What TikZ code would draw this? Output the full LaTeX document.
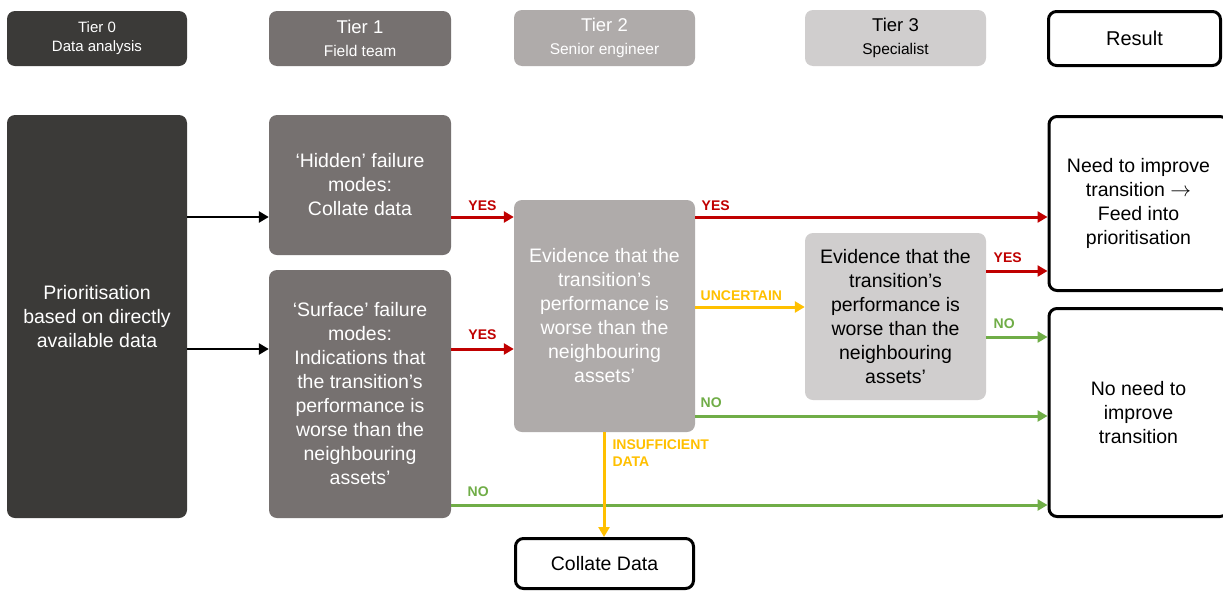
\documentclass[tikz,border=0pt]{standalone}
\usepackage{fontspec}
\setmainfont{Liberation Sans}
\usetikzlibrary{arrows.meta}
\definecolor{tzero}{HTML}{3B3A38}
\definecolor{tone}{HTML}{767170}
\definecolor{ttwo}{HTML}{AFABAA}
\definecolor{tthree}{HTML}{D0CECE}
\definecolor{cred}{HTML}{C00000}
\definecolor{cyel}{HTML}{FFC000}
\definecolor{cgrn}{HTML}{70AD47}
\newcommand\tiername[1]{{\fontsize{18.5}{21}\selectfont #1}}
\newcommand\tierrole[1]{{\fontsize{15.5}{18}\selectfont #1}}
\begin{document}
\begin{tikzpicture}[x=1pt,y=-1pt,
  box/.style={rounded corners=8pt, align=center, inner sep=2pt,
    font=\fontsize{19.5}{24}\selectfont},
  hdr/.style={box, minimum width=180pt, minimum height=55pt},
  res/.style={box, draw=black, line width=3pt, fill=white, text=black},
  arr/.style={line width=3pt, -{Triangle[length=10pt,width=11pt]}},
  lbl/.style={font=\bfseries\fontsize{14}{17}\selectfont, inner sep=0pt}]
\useasboundingbox (0,0) rectangle (1223,592);
\fill[white] (0,0) rectangle (1223,592);

% column headers
\node[hdr, fill=tzero, text=white, font=\fontsize{15}{19}\selectfont, text depth=3pt] (h0) at (97,38.5)
  {Tier 0\\Data analysis};
\node[hdr, fill=tone, text=white, minimum width=182pt] (h1) at (360,38.5)
  {\tiername{Tier 1}\\[-1pt]\tierrole{Field team}};
\node[hdr, fill=ttwo, text=white, minimum width=181pt, minimum height=56pt] (h2) at (604.5,38)
  {\tiername{Tier 2}\\[-1pt]\tierrole{Senior engineer}};
\node[hdr, fill=tthree, text=black, minimum width=181pt, minimum height=56pt] (h3) at (895.5,38)
  {\tiername{Tier 3}\\[-1pt]\tierrole{Specialist}};
\node[res, minimum width=172pt, minimum height=54pt, font=\fontsize{20}{24}\selectfont] (hr) at (1134.5,38.5)
  {Result};

% process boxes
\node[box, fill=tzero, text=white, minimum width=180pt, minimum height=403pt] (prio) at (97,316.5)
  {Prioritisation\\based on directly\\available data};
\node[box, fill=tone, text=white, minimum width=182pt, minimum height=140pt] (hidden) at (360,185)
  {‘Hidden’ failure\\modes:\\Collate data};
\node[box, fill=tone, text=white, minimum width=182pt, minimum height=248pt] (surface) at (360,394)
  {‘Surface’ failure\\modes:\\Indications that\\the transition’s\\performance is\\worse than the\\neighbouring\\assets’};
\node[box, fill=ttwo, text=white, minimum width=181pt, minimum height=232pt] (evtwo) at (604.5,316)
  {Evidence that the\\transition’s\\performance is\\worse than the\\neighbouring\\assets’};
\node[box, fill=tthree, text=black, minimum width=181pt, minimum height=167pt] (evthree) at (895.5,316.5)
  {Evidence that the\\transition’s\\performance is\\worse than the\\neighbouring\\assets’};
\node[res, minimum width=179pt, minimum height=174pt] (need) at (1138.5,203.5)
  {Need to improve\\transition $\rightarrow$\\Feed into\\prioritisation};
\node[res, minimum width=179pt, minimum height=208pt] (noneed) at (1138.5,412.5)
  {No need to\\improve\\transition};
\node[res, minimum width=178pt, minimum height=50pt] (collate) at (604.5,563.5)
  {Collate Data};

% connector levels
\coordinate (la) at (0,217);
\coordinate (lb) at (0,349);
\coordinate (lc) at (0,307);
\coordinate (ld) at (0,271);
\coordinate (le) at (0,337);
\coordinate (lf) at (0,416);
\coordinate (lg) at (0,505);
\coordinate (lv) at (604,0);

% connectors
\draw[arr, black, line width=2.5pt] (prio.east |- la) -- (hidden.west |- la);
\draw[arr, black, line width=2.5pt] (prio.east |- lb) -- (surface.west |- lb);

\draw[arr, cred] (hidden.east |- la) -- (evtwo.west |- la)
  node[lbl, midway, anchor=south, yshift=5pt] {YES};
\draw[arr, cred] (surface.east |- lb) -- (evtwo.west |- lb)
  node[lbl, midway, anchor=south, yshift=8pt] {YES};
\draw[arr, cred] (evtwo.east |- la) -- (need.west |- la)
  node[lbl, pos=0, anchor=south west, xshift=5pt, yshift=5pt] {YES};
\draw[arr, cyel] (evtwo.east |- lc) -- (evthree.west |- lc)
  node[lbl, pos=0, anchor=south west, xshift=4pt, yshift=5pt] {UNCERTAIN};
\draw[arr, cred] (evthree.east |- ld) -- (need.west |- ld)
  node[lbl, pos=0, anchor=south west, xshift=6pt, yshift=7pt] {YES};
\draw[arr, cgrn] (evthree.east |- le) -- (noneed.west |- le)
  node[lbl, pos=0, anchor=south west, xshift=6pt, yshift=7pt] {NO};
\draw[arr, cgrn] (evtwo.east |- lf) -- (noneed.west |- lf)
  node[lbl, pos=0, anchor=south west, xshift=4pt, yshift=7pt] {NO};
\draw[arr, cgrn] (surface.east |- lg) -- (noneed.west |- lg)
  node[lbl, pos=0, anchor=south west, xshift=15pt, yshift=7pt] {NO};
\draw[arr, cyel] (evtwo.south -| lv) -- (collate.north -| lv)
  node[lbl, pos=0, anchor=north west, align=left, xshift=7pt, yshift=-6pt] {INSUFFICIENT\\DATA};
\end{tikzpicture}
\end{document}
